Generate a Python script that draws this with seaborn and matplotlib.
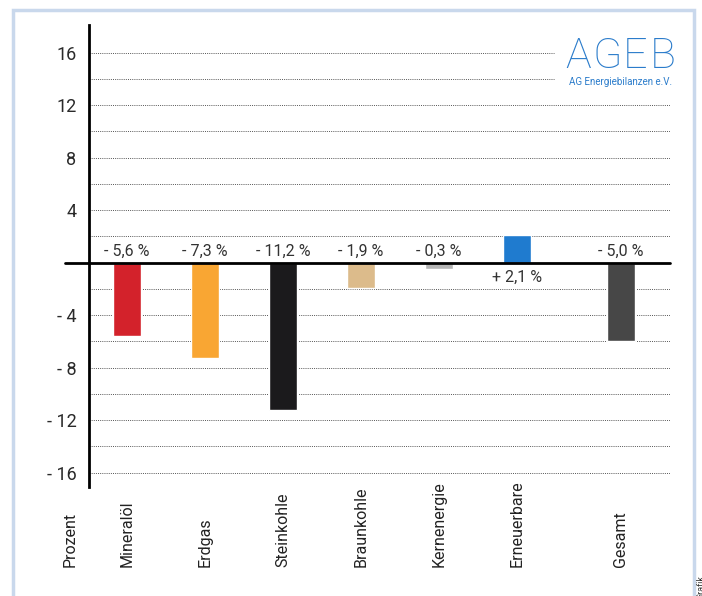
import matplotlib
matplotlib.use('Agg')
import matplotlib.pyplot as plt
import seaborn as sns
import pandas as pd
from matplotlib.patches import Rectangle

# data (percent change)
categories = ['Mineralöl', 'Erdgas', 'Steinkohle', 'Braunkohle',
              'Kernenergie', 'Erneuerbare', 'Gesamt']
values = [-5.6, -7.3, -11.2, -1.9, -0.5, 2.1, -6.0]
value_labels = ['- 5,6 %', '- 7,3 %', '- 11,2 %', '- 1,9 %',
                '- 0,3 %', '+ 2,1 %', '- 5,0 %']
xpos = [0, 1, 2, 3, 4, 5, 6.33]
colors = ['#d3222b', '#f9a633', '#1b1a1c', '#dcbb8b',
          '#b5b5b5', '#1f7bcf', '#474747']
yticks = [-16, -12, -8, -4, 4, 8, 12, 16]
ytick_labels = ['- 16', '- 12', '- 8', '- 4', '4', '8', '12', '16']
grid_vals = [-16, -14, -12, -10, -8, -6, -4, -2, 2, 4, 6, 8, 10, 12, 14, 16]
logo_letters = ['A', 'G', 'E', 'B']

sns.set_style('white')
plt.rcParams['font.family'] = ['Roboto', 'DejaVu Sans']

df = pd.DataFrame({'x': xpos, 'v': values, 'cat': categories})

fig = plt.figure(figsize=(7.02, 5.96), dpi=100)
ax = fig.add_axes([89/702, 1-487/596, (670-89)/702, 462/596])

# frame around the graphic
fig.patches.append(Rectangle((13/702, -0.1), (694-13)/702, 1.1 - 10/596,
                             transform=fig.transFigure, fill=False,
                             edgecolor='#c9d8ec', lw=2.5))

# dotted grid
for g in grid_vals:
    xmax = 0.80 if g >= 14 else 1.0
    ax.axhline(g, xmax=xmax, color='#555555', ls=(0, (1, 1.2)), lw=0.7,
               zorder=0)

sns.barplot(data=df, x='x', y='v', hue='cat', palette=colors,
            native_scale=True, width=0.35, legend=False, dodge=False,
            saturation=1, ax=ax, zorder=2)

ax.axhline(0, xmin=-24/581, xmax=1.0, color='black', lw=2,
           clip_on=False, zorder=3)

ax.set_xlim(-0.487, 6.96)
ax.set_ylim(-17.1, 18.1)
ax.set_yticks(yticks)
ax.set_yticklabels(ytick_labels, fontsize=13, color='#2a2a2a')
ax.tick_params(axis='y', length=0, pad=9)
ax.set_xticks([])
ax.set_xlabel('')
ax.set_ylabel('')
for s in ['top', 'right', 'bottom']:
    ax.spines[s].set_visible(False)
ax.spines['left'].set_color('black')
ax.spines['left'].set_linewidth(2)

for x, v, lab in zip(xpos, values, value_labels):
    y = -1.15 if v > 0 else 0.85
    ax.text(x, y, lab, ha='center', va='center', fontsize=11.5,
            color='#333333', zorder=4)

for x, name in zip(xpos, categories):
    ax.text(x, -23.2, name, rotation=90, ha='center', va='bottom',
            fontsize=11.5, color='#222222', clip_on=False)
ax.text(-0.73, -23.2, 'Prozent', rotation=90, ha='center', va='bottom',
        fontsize=11.5, color='#222222', clip_on=False)

# logo
for lx, letter in zip([578, 607, 635, 663], logo_letters):
    fig.text(lx/702, 1-77/596, letter, ha='center', va='bottom',
             fontsize=31, color='#2b7ccb', fontweight='light')
fig.text(672/702, 1-77/596, 'AG Energiebilanzen e.V.', ha='right',
         va='top', fontsize=7, color='#2b7ccb')

fig.text(696/702, -3/596, 'Grafik', rotation=90, ha='left',
         va='bottom', fontsize=6.5, color='#333333')

fig.savefig('out.png', dpi=100)
